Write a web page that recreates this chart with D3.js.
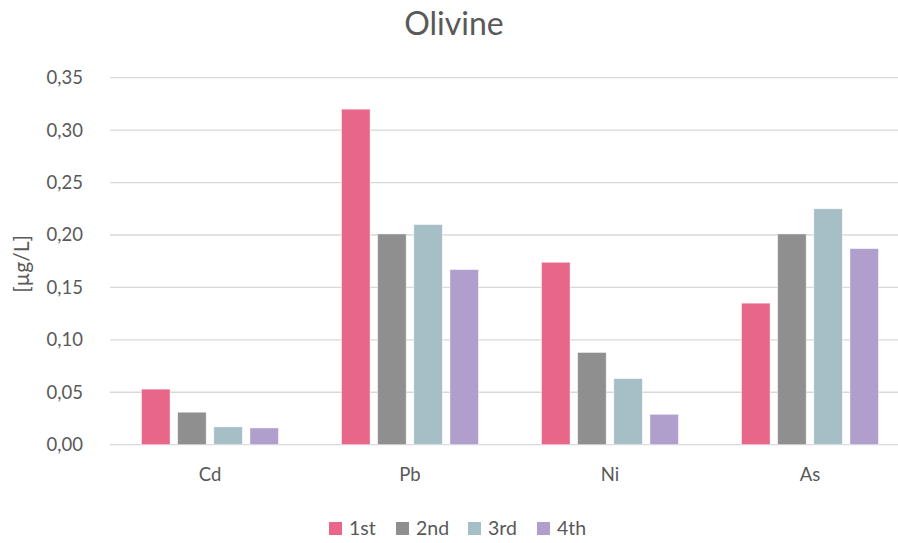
<!DOCTYPE html>
<html>
<head>
<meta charset="utf-8">
<script src="https://cdn.jsdelivr.net/npm/d3@7"></script>
<style>
  html, body { margin: 0; padding: 0; background: #fff; }
  svg { display: block; }
  text { font-family: Lato, "Open Sans", "Liberation Sans", sans-serif; fill: #595959; }
</style>
</head>
<body>
<svg id="chart" width="898" height="543"></svg>
<script>
// Metal concentrations per extraction step
const categories = ["Cd", "Pb", "Ni", "As"];
const seriesNames = ["1st", "2nd", "3rd", "4th"];
const s1st = [0.053, 0.320, 0.174, 0.135];
const s2nd = [0.031, 0.201, 0.088, 0.201];
const s3rd = [0.017, 0.210, 0.063, 0.225];
const s4th = [0.016, 0.167, 0.029, 0.187];
const yTicks = [0, 0.05, 0.10, 0.15, 0.20, 0.25, 0.30, 0.35];
const colors = ["#E8668A", "#8F8F8F", "#A6BEC5", "#B09FCD"];

const seriesValues = [s1st, s2nd, s3rd, s4th];
const rows = categories.map((c, i) => ({
  cat: c,
  vals: seriesNames.map((s, j) => ({ series: s, value: seriesValues[j][i], color: colors[j] }))
}));

const svg = d3.select("#chart");
const plotLeft = 110, plotRight = 910, plotTop = 77.7, plotBottom = 444.7;

const x0 = d3.scaleBand().domain(categories).range([plotLeft, plotRight]).padding(0);
const x1 = d3.scaleBand().domain(seriesNames).range([31.5, x0.bandwidth() - 31.5]).paddingInner(0.21);
const y = d3.scaleLinear().domain([0, 0.35]).range([plotBottom, plotTop]);

const fmt = v => d3.format(".2f")(v).replace(".", ",");
const font = "Lato, 'Open Sans', sans-serif";

// horizontal gridlines
svg.append("g")
  .selectAll("line")
  .data(yTicks)
  .join("line")
  .attr("x1", plotLeft).attr("x2", plotRight)
  .attr("y1", d => y(d)).attr("y2", d => y(d))
  .attr("stroke", "#D9D9D9").attr("stroke-width", 1.3);

// y tick labels
const yAxis = svg.append("g").attr("transform", `translate(${plotLeft},0)`)
  .call(d3.axisLeft(y).tickValues(yTicks).tickFormat(fmt).tickSize(0).tickPadding(27));
yAxis.select(".domain").remove();
yAxis.selectAll("text").style("font-size", "18.5px").attr("fill", "#595959")
  .style("font-family", font);

// bars
const groups = svg.append("g").selectAll("g")
  .data(rows).join("g")
  .attr("transform", d => `translate(${x0(d.cat)},0)`);
groups.selectAll("rect")
  .data(d => d.vals).join("rect")
  .attr("x", d => x1(d.series))
  .attr("width", x1.bandwidth())
  .attr("y", d => y(d.value))
  .attr("height", d => y(0) - y(d.value))
  .attr("fill", d => d.color)
  .attr("stroke", "#fff").attr("stroke-opacity", 0.6).attr("stroke-width", 0.8);

// x axis labels
const xAxis = svg.append("g").attr("transform", `translate(0,${plotBottom})`)
  .call(d3.axisBottom(x0).tickSize(0).tickPadding(23));
xAxis.select(".domain").remove();
xAxis.selectAll("text").style("font-size", "18.5px").attr("fill", "#595959")
  .style("font-family", font);

// title
svg.append("text").attr("x", 454).attr("y", 35).attr("text-anchor", "middle")
  .style("font-size", "32px").text("Olivine");

// y axis title
svg.append("text").attr("transform", "translate(29,264) rotate(-90)")
  .attr("text-anchor", "middle").style("font-size", "21px").text("[µg/L]");

// legend
const legendX = [329, 396, 468, 537];
const legend = svg.append("g").selectAll("g")
  .data(seriesNames).join("g")
  .attr("transform", (d, i) => `translate(${legendX[i]},522)`);
legend.append("rect").attr("width", 13).attr("height", 13).attr("fill", (d, i) => colors[i]);
legend.append("text").attr("x", 20).attr("y", 13).style("font-size", "19.5px").text(d => d);
</script>
</body>
</html>
